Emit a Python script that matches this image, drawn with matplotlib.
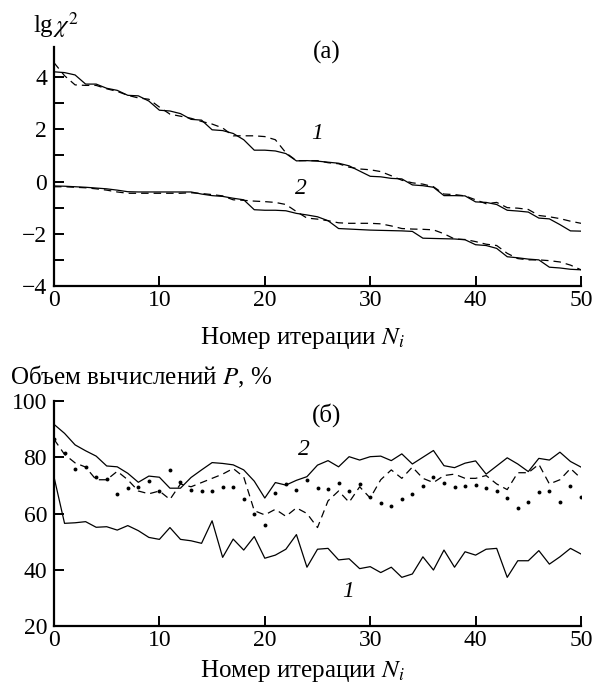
import matplotlib
matplotlib.use("Agg")
import matplotlib.pyplot as plt
import numpy as np

plt.rcParams['font.family'] = ['Liberation Serif', 'DejaVu Serif']
plt.rcParams['mathtext.fontset'] = 'stix'
plt.rcParams['font.size'] = 18

iters = np.arange(51)

# (a) lg chi^2, curves 1 and 2 (solid / dashed)
chi1_solid = [4.2, 4.17, 4.08, 3.73, 3.73, 3.57, 3.49, 3.3, 3.28, 3.08,
              2.73, 2.7, 2.6, 2.38, 2.35, 1.98, 1.95, 1.84, 1.6, 1.2,
              1.2, 1.17, 1.07, 0.79, 0.8, 0.78, 0.74, 0.7, 0.6, 0.4,
              0.2, 0.18, 0.12, 0.1, -0.13, -0.16, -0.22, -0.54, -0.54, -0.55,
              -0.78, -0.8, -0.88, -1.1, -1.13, -1.17, -1.4, -1.43, -1.65, -1.89,
              -1.9]
chi1_dash = [4.55, 4.05, 3.7, 3.68, 3.68, 3.55, 3.45, 3.3, 3.2, 3.15,
             2.85, 2.58, 2.5, 2.42, 2.3, 2.2, 2.05, 1.75, 1.75, 1.75,
             1.72, 1.6, 1.1, 0.8, 0.8, 0.8, 0.72, 0.68, 0.55, 0.48,
             0.45, 0.38, 0.22, 0.05, -0.05, -0.1, -0.2, -0.48, -0.5, -0.55,
             -0.7, -0.85, -0.8, -1.0, -1.02, -1.07, -1.3, -1.35, -1.42, -1.52,
             -1.6]
chi2_solid = [-0.17, -0.18, -0.2, -0.22, -0.25, -0.28, -0.33, -0.39, -0.4, -0.4,
              -0.4, -0.4, -0.4, -0.4, -0.48, -0.54, -0.57, -0.64, -0.7, -1.08,
              -1.1, -1.1, -1.12, -1.22, -1.28, -1.35, -1.5, -1.8, -1.82, -1.84,
              -1.86, -1.87, -1.88, -1.89, -1.91, -2.17, -2.18, -2.19, -2.2, -2.23,
              -2.42, -2.45, -2.56, -2.88, -2.92, -2.97, -3.0, -3.28, -3.31, -3.36,
              -3.38]
chi2_dash = [-0.2, -0.2, -0.22, -0.24, -0.28, -0.33, -0.4, -0.45, -0.45, -0.45,
             -0.45, -0.45, -0.45, -0.43, -0.46, -0.5, -0.55, -0.7, -0.72, -0.75,
             -0.77, -0.8, -0.88, -1.15, -1.4, -1.44, -1.5, -1.58, -1.6, -1.6,
             -1.6, -1.62, -1.7, -1.8, -1.82, -1.83, -1.85, -2.0, -2.2, -2.22,
             -2.3, -2.4, -2.45, -2.75, -2.95, -3.0, -3.0, -3.03, -3.08, -3.2,
             -3.38]

# (б) computation volume P, %
p1 = [73, 56.5, 56.7, 57.1, 55.1, 55.3, 54.1, 55.7, 53.9, 51.5,
      50.8, 55.0, 50.8, 50.3, 49.4, 57.4, 44.4, 50.9, 47.0, 51.8,
      44.1, 45.2, 47.3, 52.5, 40.9, 47.3, 47.6, 43.5, 43.9, 40.4,
      41.1, 39.0, 40.9, 37.3, 38.5, 44.6, 39.9, 47.0, 40.9, 46.4,
      45.2, 47.3, 47.6, 37.3, 43.2, 43.2, 46.8, 42.0, 44.6, 47.6,
      45.6]
p2 = [91.7, 88.5, 84.4, 82.3, 80.4, 76.9, 76.6, 74.3, 71.1, 73.3,
      72.9, 69.0, 69.0, 72.8, 75.5, 78.1, 77.8, 77.3, 75.5, 71.5,
      65.5, 71.0, 70.1, 71.8, 73.1, 77.2, 78.8, 76.6, 80.2, 79.0,
      80.2, 80.4, 78.8, 81.2, 77.6, 80.0, 82.4, 77.0, 76.3, 77.9,
      78.7, 74.0, 76.9, 79.8, 77.6, 74.9, 79.6, 79.0, 81.8, 78.5,
      76.5]
p_dash = [86.4, 81, 78, 76.5, 72, 72, 75, 72, 68, 67,
          68, 65, 70.5, 69.5, 71, 72.5, 74, 76, 73, 61,
          59.5, 61.5, 59, 62, 60, 55, 64.5, 68, 64, 69.5,
          65.5, 72, 75.5, 72.5, 76.5, 72.5, 71, 73.5, 74, 72.5,
          72.5, 73.5, 70.5, 68.5, 74.5, 74.5, 77.5, 70.5, 72, 76,
          72.5]
p_dots = [86.4, 81.4, 76, 76.5, 73.1, 72.2, 66.9, 68.9, 69.3, 71.6,
          68.0, 75.5, 71.3, 68.4, 68.1, 68.0, 69.3, 69.5, 65.0, 60.0,
          55.9, 67.2, 70.5, 68.4, 71.9, 69.1, 68.8, 70.7, 68.1, 70.5,
          65.8, 63.6, 62.8, 65.2, 66.9, 69.8, 73.1, 70.7, 69.4, 69.9,
          70.1, 69.2, 68.1, 65.4, 61.9, 64.0, 67.5, 68.1, 64.2, 69.9,
          66.0]

fig = plt.figure(figsize=(5.94, 6.86), dpi=100)
ax1 = fig.add_axes([54/594, 1-286/686, 527/594, 239/686])
ax2 = fig.add_axes([54/594, 1-626/686, 527/594, 225/686])

lw = 0.9
dash = (6, 4)

ax1.plot(iters, chi1_solid, color='black', lw=lw)
ax1.plot(iters, chi1_dash, color='black', lw=lw, dashes=dash)
ax1.plot(iters, chi2_solid, color='black', lw=lw)
ax1.plot(iters, chi2_dash, color='black', lw=lw, dashes=dash)

ax2.plot(iters, p1, color='black', lw=lw)
ax2.plot(iters, p2, color='black', lw=lw)
ax2.plot(iters, p_dash, color='black', lw=lw, dashes=dash)
ax2.plot(iters, p_dots, 'o', color='black', ms=2.8, mew=0)

for ax in (ax1, ax2):
    ax.spines['top'].set_visible(False)
    ax.spines['right'].set_visible(False)
    ax.spines['left'].set_linewidth(1.6)
    ax.spines['bottom'].set_linewidth(1.6)
    ax.set_xlim(0, 50)
    ax.set_xticks([0, 10, 20, 30, 40, 50])
    ax.tick_params(direction='in', length=7, width=1.4, labelsize=17, pad=3)
    ax.tick_params(axis='y', pad=5)

ax1.set_ylim(-4, 5.15)
ax1.set_yticks([-4, -2, 0, 2, 4])
ax1.set_yticks([-3, -1, 1, 3], minor=True)
ax1.tick_params(which='minor', direction='in', length=7, width=1.4)

ax2.set_ylim(20, 100)
ax2.set_yticks([20, 40, 60, 80, 100])

ax1.text(25.9, 4.94, '(a)', ha='center', va='center', fontsize=18)
ax1.text(25.0, 1.85, '1', ha='center', va='center', fontsize=17, style='italic')
ax1.text(23.4, -0.25, '2', ha='center', va='center', fontsize=17, style='italic')

ax2.text(25.9, 95, '(б)', ha='center', va='center', fontsize=18)
ax2.text(23.7, 82.6, '2', ha='center', va='center', fontsize=17, style='italic')
ax2.text(27.9, 32.1, '1', ha='center', va='center', fontsize=17, style='italic')

xlab = 'Номер итерации $N_i$'
fig.text(302/594, 1-344/686, xlab, ha='center', va='baseline', fontsize=18)
fig.text(302/594, 1-677/686, xlab, ha='center', va='baseline', fontsize=18)
fig.text(33/594, 1-33/686, 'lg$\\,\\chi^2$', ha='left', va='baseline', fontsize=18)
fig.text(10/594, 1-384/686, 'Объем вычислений $P$, %', ha='left', va='baseline',
         fontsize=18)

fig.savefig('out.png', dpi=100)
